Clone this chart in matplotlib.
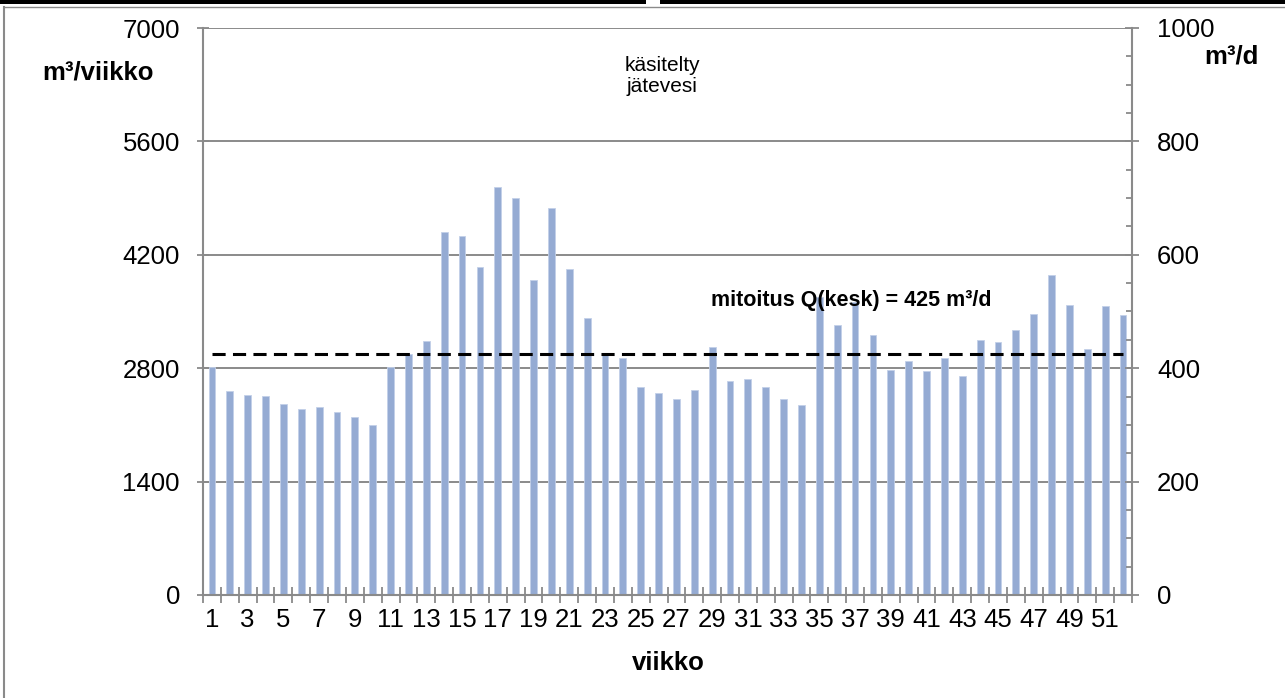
import matplotlib
matplotlib.use("Agg")
import matplotlib.pyplot as plt
from matplotlib.patches import Rectangle
from matplotlib.lines import Line2D
from matplotlib.ticker import MultipleLocator, FixedLocator

plt.rcParams['font.family'] = ['Liberation Sans', 'DejaVu Sans']

# Weekly treated wastewater volume, m3 per week
weeks = list(range(1, 53))
volume_m3_week = [
    2810, 2515, 2465, 2455, 2355, 2295, 2315, 2260, 2200, 2100,
    2810, 2980, 3130, 4480, 4435, 4050, 5035, 4905, 3890, 4780,
    4030, 3420, 2965, 2925, 2570, 2490, 2425, 2535, 3060, 2640,
    2670, 2565, 2420, 2345, 3680, 3330, 3620, 3210, 2780, 2890,
    2770, 2925, 2705, 3150, 3125, 3270, 3470, 3950, 3575, 3035,
    3565, 3460,
]
design_flow_m3_day = 425

left_ticks = [0, 1400, 2800, 4200, 5600, 7000]
right_ticks = [0, 200, 400, 600, 800, 1000]
week_labels = [str(w) for w in weeks if w % 2 == 1]

W, H = 1285, 698
fig = plt.figure(figsize=(W / 100, H / 100), dpi=100)
ax = fig.add_axes([203 / W, 1 - 595 / H, (1132 - 203) / W, (595 - 28) / H])

grey = '#8a8a8a'
bar_color = '#95abd3'

ax.bar(weeks, volume_m3_week, width=0.38, color=bar_color,
       edgecolor='#c3d0e8', linewidth=0.6, zorder=2)
ax.set_xlim(0.5, 52.5)
ax.set_ylim(0, 7000)
ax.set_yticks(left_ticks)
ax.set_yticklabels([str(t) for t in left_ticks])
ax.yaxis.grid(True, color=grey, linewidth=1.4)
ax.set_axisbelow(True)

# category boundaries as tick marks, labels on every other week
ax.xaxis.set_major_locator(FixedLocator([w + 0.5 for w in [0] + weeks]))
ax.xaxis.set_major_formatter(plt.NullFormatter())
ax.xaxis.set_minor_locator(FixedLocator([w for w in weeks if w % 2 == 1]))
ax.set_xticklabels(week_labels, minor=True)
ax.tick_params(axis='x', which='major', direction='inout', length=11,
               width=1.3, color=grey)
ax.tick_params(axis='x', which='minor', length=0, pad=9.5, labelsize=18.5)
ax.tick_params(axis='y', which='major', direction='inout', length=8.6,
               width=1.3, color=grey, pad=12.3, labelsize=18.5)

for side in ('top', 'right'):
    ax.spines[side].set_visible(False)
for side in ('left', 'bottom'):
    ax.spines[side].set_color(grey)
    ax.spines[side].set_linewidth(1.5)

ax2 = ax.twinx()
ax2.set_ylim(0, 1000)
ax2.set_yticks(right_ticks)
ax2.set_yticklabels([str(t) for t in right_ticks])
ax2.yaxis.set_minor_locator(MultipleLocator(50))
ax2.tick_params(axis='y', which='major', direction='inout', length=9.4,
                width=1.3, color=grey, pad=13.3, labelsize=18.5)
ax2.tick_params(axis='y', which='minor', direction='in', length=4.3,
                width=1.3, color=grey)
for side in ('top', 'left', 'bottom'):
    ax2.spines[side].set_visible(False)
ax2.spines['right'].set_color(grey)
ax2.spines['right'].set_linewidth(1.5)

# design average flow
ax2.plot([weeks[0], weeks[-1]], [design_flow_m3_day] * 2, color='black',
         linewidth=2.2, linestyle=(0, (4.3, 2.4)), zorder=3)

fig.text(711 / W, 1 - 306 / H, 'mitoitus Q(kesk) = 425 m³/d',
         fontsize=15.5, fontweight='bold', ha='left', va='baseline')
fig.text(662 / W, 1 - 76 / H, 'käsitelty\njätevesi', fontsize=15,
         ha='center', va='center', linespacing=1.15)
fig.text(98 / W, 1 - 73 / H, 'm³/viikko', fontsize=18.5, fontweight='bold',
         ha='center', va='center')
fig.text(1231 / W, 1 - 57 / H, 'm³/d', fontsize=18.5, fontweight='bold',
         ha='center', va='center')
fig.text(668 / W, 1 - 663 / H, 'viikko', fontsize=18.5, fontweight='bold',
         ha='center', va='center')

# surrounding frame
fig.patches.append(Rectangle((0, 1 - 4 / H), 1, 4 / H, transform=fig.transFigure,
                             facecolor='black', edgecolor='none'))
fig.patches.append(Rectangle((646 / W, 1 - 4 / H), 14 / W, 4 / H,
                             transform=fig.transFigure, facecolor='white',
                             edgecolor='none'))
fig.lines.append(Line2D([4 / W, 4 / W], [0, 1 - 7 / H], transform=fig.transFigure,
                        color=grey, linewidth=1.5))
fig.lines.append(Line2D([4 / W, 1], [1 - 7 / H, 1 - 7 / H], transform=fig.transFigure,
                        color=grey, linewidth=1.0))

fig.savefig('out.png', dpi=100)
